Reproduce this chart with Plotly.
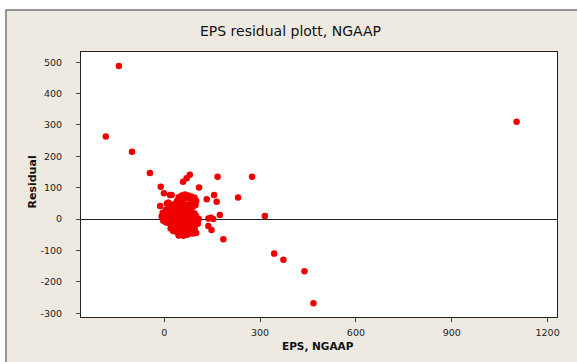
import plotly.graph_objects as go

# Data: (EPS, NGAAP) vs residual
eps = [
    -142, -183, -101, -45, 1103, 373, 439, 467, 344,
    80, 70, 59, 167, 275, 231, 315, 153, 138,
    -11, 109, -1, 23, 59, 156, 133, 164, 13, -13, 174, 146, 138, 148, 185,
    45, 55, 65, 75, 85, 95, 100, 98, 90, 60, 52, 48, 62, 72, 82, 88, 40,
    5, 15, 25, 35, 45, 55, 65, 75, 85, 95,
    0, 10, 20, 30, 40, 50, 60, 70, 80, 90, 100, 108,
    2, 12, 22, 32, 42, 52, 62, 72, 82, 92,
    10, 20, 30, 40, 50, 60, 70, 80, 95,
    25, 35, 45, 55, 65, 75, 88, 100,
    40, 52, 62, 70, 90,
    -5, -8, -3, 8, 18,
    30, 35, 25, 50, 70, 80, 92, 78, 68, 58, 38, 48, 58, 68, 78, 85,
    15, 5, 28, 45, 60, 75, 95, 105, 35, 65, 85, 15, 20, 50,
]
residual = [
    488, 263, 215, 147, 310, -130, -166, -268, -110,
    141, 130, 119, 135, 135, 69, 10, 0, 2,
    103, 101, 82, 77, 71, 77, 63, 55, 53, 42, 13, 4, -22, -35, -64,
    70, 75, 78, 75, 72, 68, 58, 45, 40, 62, 55, 45, 48, 45, 50, 60, 58,
    30, 25, 35, 30, 28, 32, 25, 30, 22, 18,
    12, 15, 10, 15, 12, 18, 10, 15, 8, 5, 10, 0,
    0, -2, 3, -5, 2, -3, 0, -6, -2, -8,
    -12, -15, -10, -18, -12, -20, -15, -22, -25,
    -25, -30, -28, -35, -32, -38, -36, -44,
    -42, -48, -45, -50, -46,
    20, 8, -5, 50, 77,
    40, 50, 45, 65, 68, 65, 52, 38, 35, 40, 20, 5, -8, -28, -10, -30,
    -5, -10, -38, -52, -53, -48, -35, -15, 5, -42, 35, 40, -30, -40,
]

x_ticks = [0, 300, 600, 900, 1200]
y_ticks = [-300, -200, -100, 0, 100, 200, 300, 400, 500]
y_tick_text = ["-300", "-200", "-100", "0", "100", "200", "300", "400", "500"]

BEIGE = "#EEEAE1"
RED = "#EE0000"

fig = go.Figure()
fig.add_trace(go.Scatter(
    x=eps, y=residual, mode="markers",
    marker=dict(color=RED, size=6.5, line=dict(width=0)),
    showlegend=False, hoverinfo="skip",
))

tick_font = dict(family="DejaVu Sans", size=9.5, color="#222222")

fig.update_layout(
    width=577, height=362,
    margin=dict(l=81, r=20, t=52, b=45),
    paper_bgcolor=BEIGE,
    plot_bgcolor="white",
    title=dict(
        text="EPS residual plott, NGAAP",
        x=290.5 / 577, xref="container", xanchor="center",
        y=1 - 31 / 362, yref="container", yanchor="middle",
        font=dict(family="DejaVu Sans", size=14, color="#111111"),
    ),
    xaxis=dict(
        range=[-260.6, 1229.4], tickvals=x_ticks,
        showgrid=False, zeroline=False,
        showline=True, linecolor="#222222", linewidth=1, mirror=True,
        ticks="outside", ticklen=4, tickcolor="#444444",
        tickfont=tick_font, ticklabelstandoff=3,
    ),
    yaxis=dict(
        range=[-312.1, 532.6], tickvals=y_ticks, ticktext=y_tick_text,
        showgrid=False, zeroline=True, zerolinecolor="#222222", zerolinewidth=1,
        showline=True, linecolor="#222222", linewidth=1, mirror=True,
        ticks="outside", ticklen=4, tickcolor="#444444",
        tickfont=tick_font, ticklabelstandoff=12,
    ),
    annotations=[
        dict(text="<b>Residual</b>", textangle=-90, showarrow=False,
             xref="paper", yref="paper", x=(32 - 81) / 476, y=(317 - 182.5) / 265,
             xanchor="center", yanchor="middle",
             font=dict(family="DejaVu Sans", size=11, color="#111111")),
        dict(text="<b>EPS, NGAAP</b>", showarrow=False,
             xref="paper", yref="paper", x=(317.5 - 81) / 476, y=(317 - 346) / 265,
             xanchor="center", yanchor="middle",
             font=dict(family="DejaVu Sans", size=10.5, color="#111111")),
    ],
    shapes=[
        # white strips outside the frame (top and left)
        dict(type="rect", xref="paper", yref="paper", layer="below",
             x0=-0.1702, x1=1.05, y0=1.1585, y1=1.2, fillcolor="white", line=dict(width=0)),
        dict(type="rect", xref="paper", yref="paper", layer="below",
             x0=-0.18, x1=-0.1576, y0=-0.18, y1=1.2, fillcolor="white", line=dict(width=0)),
        # frame border lines
        dict(type="line", xref="paper", yref="paper",
             x0=-0.1576, x1=1.05, y0=1.1585, y1=1.1585, line=dict(color="#333333", width=1)),
        dict(type="line", xref="paper", yref="paper",
             x0=-0.1576, x1=-0.1576, y0=-0.18, y1=1.1585, line=dict(color="#333333", width=1)),
    ],
)

fig.write_html("out.html")
